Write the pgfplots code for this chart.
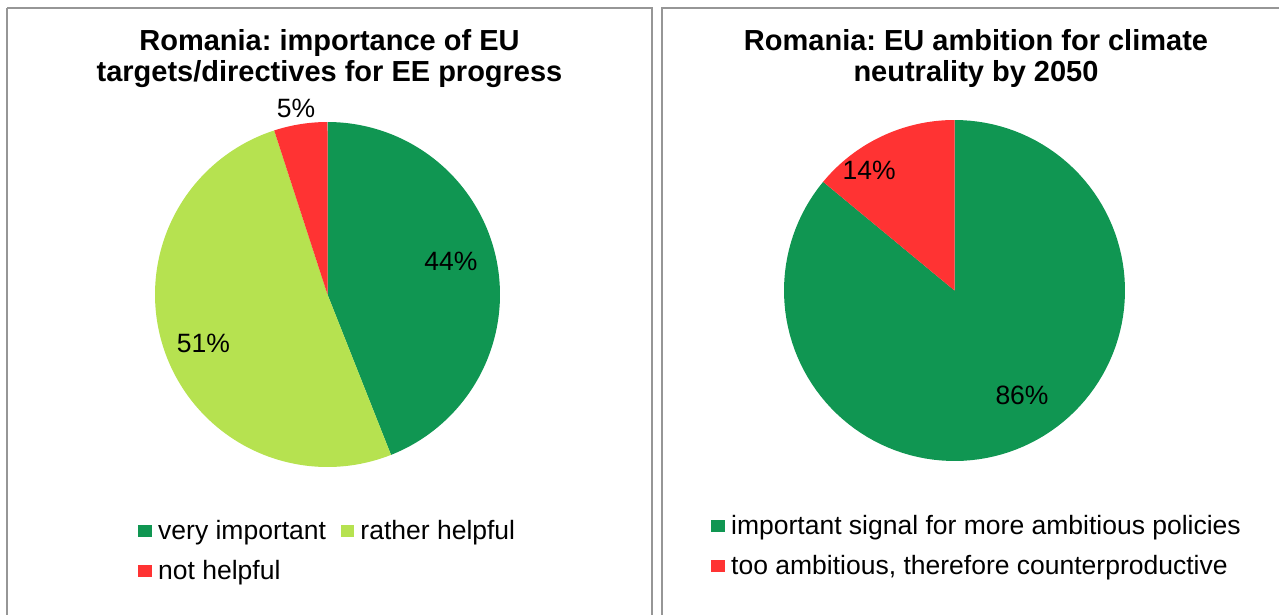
\documentclass[border=0pt]{standalone}
\usepackage{pgfplots}
\pgfplotsset{compat=1.18}
\usepackage{fontspec}
\setmainfont{Liberation Sans}
\frenchspacing

\definecolor{vgreen}{RGB}{16,150,82}
\definecolor{lgreen}{RGB}{182,226,80}
\definecolor{vred}{RGB}{255,51,51}
\definecolor{framegray}{RGB}{150,150,150}

\newcommand\titlefont{\fontsize{14.5}{17}\selectfont\bfseries}
\newcommand\lblfont{\fontsize{13.25}{15}\selectfont}

% one pie = one hidden square axis, slices start at 12 o'clock and run clockwise
\pgfplotsset{
  pie/.style={
    hide axis, scale only axis, clip=false, anchor=center,
    xmin=-1, xmax=1, ymin=-1, ymax=1,
    legend image code/.code={\fill[##1] (0pt,-2.1pt) rectangle (6.7pt,3.8pt);},
    legend cell align=left,
    legend style={draw=none, fill=none, inner sep=0pt, anchor=north west,
      font=\lblfont,
      nodes={inner sep=0pt, text height=9.6pt, text depth=2.8pt},
      /tikz/every odd column/.append style={column sep=3.2pt},
      /tikz/every even column/.append style={column sep=7.3pt}},
  },
  slice/.style={draw=none, fill=#1, samples=120},
}

\begin{document}
\begin{tikzpicture}
% pixel grid of the reference: 1 px = 0.5pt, y downwards
\begin{scope}[x=0.5pt,y=-0.5pt]
\draw[framegray, line width=1pt] (7,8) -- (651.7,8) -- (651.7,620);
\draw[framegray, line width=1pt] (7,620) -- (7,8);
\draw[framegray, line width=1pt] (661.7,620) -- (661.7,8) -- (1290,8);

\node[font=\titlefont, anchor=base] at (329.5,51) {Romania: importance of EU};
\node[font=\titlefont, anchor=base] at (329.5,82) {targets/directives for EE progress};
\node[font=\titlefont, anchor=base] at (976,51) {Romania: EU ambition for climate};
\node[font=\titlefont, anchor=base] at (976,82) {neutrality by 2050};
\end{scope}

% left pie: 44 / 51 / 5 percent
\begin{axis}[pie, at={(163.75pt,-147.25pt)}, width=172.5pt, height=172.5pt,
  legend columns=2, legend style={at={(-0.0493,-0.1531)}, row sep=7.6pt}]
  \addplot[slice=vgreen, domain={90}:{90-3.6*44}] ({cos(x)},{sin(x)}) -- (axis cs:0,0) -- cycle;
  \addlegendentry{very important}
  \addplot[slice=lgreen, domain={90-3.6*44}:{90-3.6*95}] ({cos(x)},{sin(x)}) -- (axis cs:0,0) -- cycle;
  \addlegendentry{rather helpful}
  \addplot[slice=vred, domain={90-3.6*95}:{90-3.6*100}] ({cos(x)},{sin(x)}) -- (axis cs:0,0) -- cycle;
  \addlegendentry{not helpful}
  \node[font=\lblfont] at (axis cs:0.716,0.190) {44\%};
  \node[font=\lblfont] at (axis cs:-0.719,-0.283) {51\%};
  \node[font=\lblfont] at (axis cs:-0.183,1.081) {5\%};
\end{axis}

% right pie: 86 / 14 percent
\begin{axis}[pie, at={(477.25pt,-145.25pt)}, width=170.5pt, height=170.5pt,
  legend columns=1, legend style={at={(-0.2141,-0.1578)}, row sep=7.6pt}]
  \addplot[slice=vgreen, domain={90}:{90-3.6*86}] ({cos(x)},{sin(x)}) -- (axis cs:0,0) -- cycle;
  \addlegendentry{important signal for more ambitious policies}
  \addplot[slice=vred, domain={90-3.6*86}:{90-3.6*100}] ({cos(x)},{sin(x)}) -- (axis cs:0,0) -- cycle;
  \addlegendentry{too ambitious, therefore counterproductive}
  \node[font=\lblfont] at (axis cs:0.396,-0.613) {86\%};
  \node[font=\lblfont] at (axis cs:-0.501,0.707) {14\%};
\end{axis}

\pgfresetboundingbox
\path[use as bounding box] (0pt,0pt) rectangle (639.5pt,-307.5pt);
\end{tikzpicture}
\end{document}
